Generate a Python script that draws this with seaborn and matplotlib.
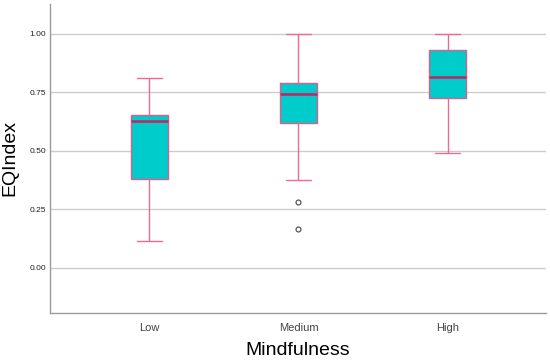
import numpy as np
import pandas as pd
import seaborn as sns
import matplotlib.pyplot as plt

# values (five-number summaries + outliers, repeated so the
# quartiles land exactly on the read values)
low_vals = [0.115, 0.38, 0.63, 0.655, 0.81]
medium_vals = [0.165, 0.28, 0.375, 0.62, 0.62, 0.745, 0.745, 0.79, 0.79, 0.79, 1.00, 1.00, 1.00]
high_vals = [0.49, 0.725, 0.815, 0.93, 1.00]
groups = ['Low', 'Medium', 'High']
yticks = [0.00, 0.25, 0.50, 0.75, 1.00]

df = pd.DataFrame({
    'Mindfulness': ['Low'] * len(low_vals) + ['Medium'] * len(medium_vals) + ['High'] * len(high_vals),
    'EQIndex': low_vals + medium_vals + high_vals,
})

sns.set_style('white')
plt.rcParams['font.family'] = ['Liberation Sans', 'DejaVu Sans']

fig = plt.figure(figsize=(5.5, 3.63), dpi=100)
ax = fig.add_axes([0.091, 0.138, 0.902, 0.851])

pink = '#ee6a8f'
sns.boxplot(data=df, x='Mindfulness', y='EQIndex', order=groups, width=0.25, ax=ax,
            color='#00cccc', saturation=1, linewidth=1.0,
            boxprops=dict(facecolor='#00cccc', edgecolor='#d9608a', linewidth=1.0),
            medianprops=dict(color='#c8225e', linewidth=1.8),
            whiskerprops=dict(color=pink, linewidth=1.0),
            capprops=dict(color=pink, linewidth=1.0),
            capwidths=0.17,
            flierprops=dict(marker='o', markersize=3.5, markerfacecolor='white',
                            markeredgecolor='#555555', markeredgewidth=0.9))

ax.set_xlim(-0.665, 2.66)
ax.set_ylim(-0.192, 1.128)
ax.set_yticks(yticks)
ax.set_yticklabels([f'{v:.2f}' for v in yticks], fontsize=6, color='#222222')
ax.tick_params(axis='x', labelsize=8, labelcolor='#444444', length=0, pad=7)
ax.tick_params(axis='y', length=0, pad=3)
ax.yaxis.grid(True, color='#cccccc', linewidth=1.0)
ax.set_axisbelow(True)

for s in ['top', 'right']:
    ax.spines[s].set_visible(False)
for s in ['left', 'bottom']:
    ax.spines[s].set_color('#9a9a9a')
    ax.spines[s].set_linewidth(1.0)

ax.set_xlabel('Mindfulness', fontsize=14, labelpad=7, color='black')
ax.set_ylabel('EQIndex', fontsize=14, labelpad=8, color='black')

fig.savefig('out.png', dpi=100)
